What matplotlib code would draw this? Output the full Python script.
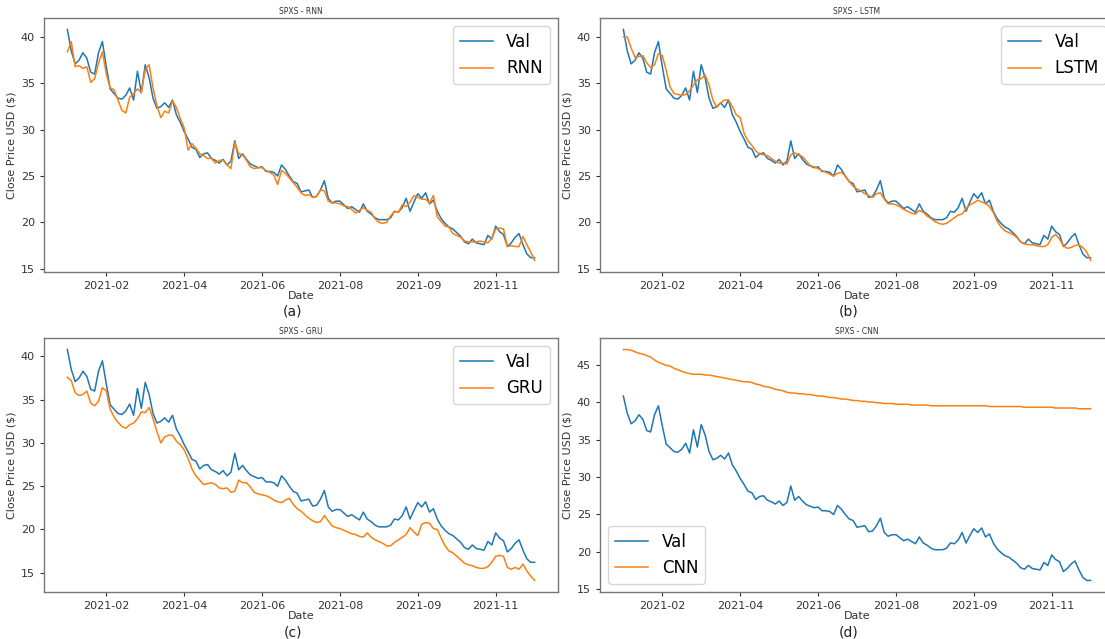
import numpy as np
import matplotlib
matplotlib.use("Agg")
import matplotlib.pyplot as plt

# closing price of SPXS (validation set), one value per ~2 trading days
val = [40.8, 38.5, 37.1, 37.5, 38.3, 37.7, 36.2, 36.0, 38.3, 39.5,
       36.8, 34.4, 33.9, 33.4, 33.3, 33.7, 34.5, 33.2, 36.3, 34.0,
       37.0, 35.6, 33.4, 32.3, 32.5, 32.9, 32.4, 33.2, 31.6, 30.8,
       29.8, 29.0, 28.1, 27.9, 27.0, 27.4, 27.5, 26.9, 26.7, 26.4,
       26.8, 26.2, 26.6, 28.8, 26.9, 27.4, 26.8, 26.3, 26.1, 25.9,
       26.0, 25.5, 25.5, 25.4, 25.0, 26.2, 25.7, 25.0, 24.4, 24.2,
       23.3, 23.4, 23.5, 22.7, 22.8, 23.5, 24.5, 22.6, 22.1, 22.3,
       22.3, 21.9, 21.5, 21.7, 21.4, 21.1, 22.0, 21.2, 20.9, 20.5,
       20.3, 20.3, 20.3, 20.5, 21.2, 21.1, 21.6, 22.6, 21.2, 22.2,
       23.1, 22.6, 23.2, 22.0, 22.4, 21.2, 20.4, 19.9, 19.5, 19.3,
       18.9, 18.5, 17.9, 17.7, 18.2, 17.8, 17.7, 17.6, 18.6, 18.2,
       19.6, 19.0, 18.7, 17.4, 17.8, 18.4, 18.8, 17.6, 16.6, 16.2,
       16.2]

rnn = [38.4, 39.5, 36.8, 36.9, 36.6, 36.8, 35.1, 35.5, 37.2, 38.4,
       36.0, 34.5, 34.3, 33.2, 32.1, 31.8, 33.5, 33.9, 34.4, 34.0,
       36.5, 37.0, 34.5, 32.6, 31.3, 32.0, 31.8, 33.1, 32.4, 31.2,
       30.2, 27.8, 28.5, 28.0, 27.4, 27.2, 26.9, 26.9, 26.4, 26.7,
       26.7, 26.2, 25.8, 28.6, 27.4, 27.3, 26.7, 26.0, 25.8, 25.9,
       25.9, 25.6, 25.4, 25.1, 24.1, 25.6, 25.3, 24.8, 24.3, 23.8,
       23.2, 22.9, 23.0, 22.7, 22.8, 23.5, 23.4, 22.3, 22.1, 22.1,
       22.0, 21.8, 21.7, 21.4, 21.0, 21.3, 21.6, 21.3, 21.1, 20.4,
       20.0, 19.9, 20.0, 20.7, 21.2, 21.1, 21.9, 21.7, 22.2, 22.9,
       22.7, 22.5, 22.5, 22.1, 22.9, 20.6, 20.1, 19.6, 19.5, 18.8,
       18.6, 18.4, 18.0, 17.9, 17.9, 17.9, 18.0, 17.9, 17.8, 18.3,
       19.3, 19.4, 19.3, 17.4, 17.5, 17.4, 17.4, 18.5, 17.6, 16.8,
       15.9]

lstm = [40.0, 40.0, 38.8, 37.8, 37.9, 38.0, 37.2, 36.7, 37.0, 38.2,
        38.0, 36.4, 34.6, 33.9, 33.8, 33.7, 33.8, 34.2, 34.8, 35.4,
        35.5, 35.9, 34.8, 33.2, 32.4, 32.9, 33.2, 33.2, 32.5, 31.6,
        31.3, 29.6, 28.8, 28.3, 27.7, 27.4, 27.3, 27.2, 26.9, 26.6,
        26.4, 26.4, 26.3, 27.3, 27.5, 27.3, 27.1, 26.6, 26.1, 26.0,
        25.8, 25.6, 25.4, 25.2, 25.0, 25.3, 25.4, 25.0, 24.4, 23.9,
        23.6, 23.4, 23.1, 22.9, 22.7, 23.1, 23.2, 22.5, 22.0, 22.0,
        21.9, 21.7, 21.4, 21.2, 21.0, 20.9, 21.3, 21.1, 20.7, 20.4,
        20.1, 19.9, 19.8, 19.9, 20.2, 20.5, 20.8, 20.9, 21.5, 21.9,
        22.1, 22.4, 22.2, 22.1, 21.7, 21.1, 20.1, 19.5, 19.1, 18.9,
        18.7, 18.4, 17.9, 17.7, 17.6, 17.6, 17.5, 17.4, 17.4, 17.6,
        18.4, 18.7, 18.2, 17.5, 17.2, 17.3, 17.5, 17.6, 17.3, 16.8,
        15.9]

gru = [37.6, 37.2, 35.8, 35.5, 35.6, 36.0, 34.6, 34.3, 34.8, 36.4,
       36.0, 33.9, 33.0, 32.4, 31.9, 31.7, 32.1, 32.3, 32.8, 33.6,
       33.5, 34.1, 32.8, 31.3, 30.0, 30.7, 30.9, 30.9, 30.2, 29.8,
       29.2, 28.2, 27.0, 26.2, 25.7, 25.2, 25.3, 25.4, 25.2, 24.8,
       24.7, 24.8, 24.3, 24.4, 25.7, 25.4, 25.4, 24.9, 24.3, 24.1,
       24.0, 23.9, 23.7, 23.4, 23.2, 23.1, 23.4, 23.6, 22.9, 22.4,
       22.1, 21.7, 21.3, 21.0, 20.8, 20.9, 21.6, 21.0, 20.4, 20.2,
       20.1, 19.9, 19.7, 19.5, 19.4, 19.2, 19.1, 19.6, 19.1, 18.8,
       18.6, 18.4, 18.1, 18.1, 18.5, 18.8, 19.1, 19.4, 20.2, 19.7,
       19.3, 20.6, 20.8, 20.7, 20.1, 20.0, 19.0, 18.1, 17.5, 17.3,
       16.9, 16.5, 16.1, 15.9, 15.8, 15.6, 15.5, 15.5, 15.7, 16.2,
       16.9, 17.0, 16.9, 15.6, 15.4, 15.6, 15.4, 16.0, 15.2, 14.6,
       14.1]

cnn = [47.0, 47.0, 46.9, 46.7, 46.5, 46.4, 46.2, 46.0, 45.6, 45.3,
       45.1, 44.9, 44.8, 44.5, 44.3, 44.1, 43.9, 43.8, 43.7, 43.7,
       43.7, 43.6, 43.6, 43.5, 43.4, 43.3, 43.2, 43.1, 43.0, 42.9,
       42.8, 42.7, 42.7, 42.6, 42.4, 42.3, 42.1, 42.0, 41.9, 41.7,
       41.6, 41.5, 41.3, 41.2, 41.2, 41.1, 41.1, 41.0, 41.0, 40.9,
       40.8, 40.8, 40.7, 40.6, 40.6, 40.5, 40.4, 40.4, 40.3, 40.2,
       40.2, 40.1, 40.1, 40.0, 40.0, 39.9, 39.9, 39.8, 39.8, 39.8,
       39.7, 39.7, 39.7, 39.7, 39.6, 39.6, 39.6, 39.6, 39.6, 39.5,
       39.5, 39.5, 39.5, 39.5, 39.5, 39.5, 39.5, 39.5, 39.5, 39.5,
       39.5, 39.5, 39.5, 39.5, 39.4, 39.4, 39.4, 39.4, 39.4, 39.4,
       39.4, 39.4, 39.4, 39.3, 39.3, 39.3, 39.3, 39.3, 39.3, 39.3,
       39.3, 39.2, 39.2, 39.2, 39.2, 39.2, 39.2, 39.1, 39.1, 39.1,
       39.1]

tick_idx = [10, 30, 50, 70, 90, 110]
tick_labels = ['2021-02', '2021-04', '2021-06', '2021-08', '2021-09', '2021-11']

models = ['RNN', 'LSTM', 'GRU', 'CNN']
preds = [rnn, lstm, gru, cnn]
letters = ['(a)', '(b)', '(c)', '(d)']
legend_loc = ['upper right', 'upper right', 'upper right', 'lower left']

W, H = 1105, 639
fig = plt.figure(figsize=(W / 100, H / 100), dpi=100)

# axes boxes in pixels: left, top
boxes = [(44, 18), (600, 18), (44, 338), (600, 338)]
aw, ah = 514, 254

x = np.arange(len(val))
for k in range(4):
    lx, ty = boxes[k]
    ax = fig.add_axes([lx / W, (H - ty - ah) / H, aw / W, ah / H])
    ax.plot(x, val, color='#1f77b4', lw=1.1, label='Val')
    ax.plot(x, preds[k], color='#ff7f0e', lw=1.1, label=models[k])
    ax.set_xticks(tick_idx)
    ax.set_xticklabels(tick_labels)
    ax.set_yticks(range(15, 50, 5) if k == 3 else range(15, 45, 5))
    ax.tick_params(labelsize=8, colors='#333333', length=3, width=0.8)
    for s in ax.spines.values():
        s.set_color('#777777')
        s.set_linewidth(1.0)
    ax.set_title('SPXS - %s' % models[k], fontsize=5.5, color='#333333', pad=3)
    ax.set_ylabel('Close Price USD ($)', fontsize=8, color='#333333', labelpad=3)
    ax.set_xlabel('Date', fontsize=8, color='#333333', labelpad=0)
    ax.legend(loc=legend_loc[k], fontsize=12)
    fig.text((lx + aw / 2 - 8) / W, 1 - (ty + ah + 40) / H, letters[k],
             ha='center', va='center', fontsize=10, color='#222222')

fig.savefig('out.png', dpi=100)
